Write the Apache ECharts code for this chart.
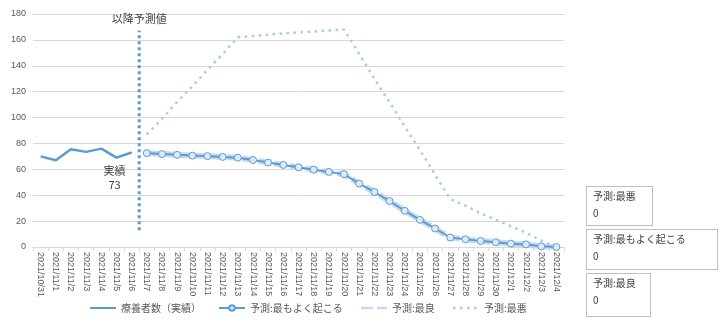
<!DOCTYPE html>
<html>
<head>
<meta charset="utf-8">
<script src="https://cdn.jsdelivr.net/npm/echarts@6/dist/echarts.min.js"></script>
<style>
html,body{margin:0;padding:0;background:#fff;}
#c{width:725px;height:324px;}
</style>
</head>
<body>
<div id="c"></div>
<script>
var categories = ['2021/10/31','2021/11/1','2021/11/2','2021/11/3','2021/11/4','2021/11/5','2021/11/6','2021/11/7','2021/11/8','2021/11/9','2021/11/10','2021/11/11','2021/11/12','2021/11/13','2021/11/14','2021/11/15','2021/11/16','2021/11/17','2021/11/18','2021/11/19','2021/11/20','2021/11/21','2021/11/22','2021/11/23','2021/11/24','2021/11/25','2021/11/26','2021/11/27','2021/11/28','2021/11/29','2021/11/30','2021/12/1','2021/12/2','2021/12/3','2021/12/4'];
var actual = [70, 67, 75.5, 73.5, 76, 69, 73];
var likely = [72.5, 71.8, 71.2, 70.6, 70.2, 69.6, 69, 67.2, 65.2, 63.4, 61.6, 59.7, 58, 56.3, 49, 42.5, 35.5, 28, 21, 14.3, 7.3, 6, 4.7, 3.7, 2.6, 2, 0.5, 0];
var best = [72.5, 71.8, 71.2, 70.6, 70.2, 69.6, 69, 67.2, 65.2, 63.4, 61.6, 59.7, 58, 56.3, 49, 42.5, 35.5, 28, 21, 14.3, 7.3, 6, 4.7, 3.7, 2.6, 2, 0.5, 0];
var worst = [87, 99, 112, 124, 137, 149, 162, 163, 164, 165, 165.8, 166.5, 167.2, 168, 149, 130, 112, 93, 75, 56, 37, 32, 26, 21, 16, 11, 5, 0];
var forecastStartIndex = 7;
var dividerPos = 6.5;
var dividerRange = [13, 167];
var yTicks = {min: 0, max: 180, interval: 20};

var names = {actual: '療養者数（実績）', likely: '予測:最もよく起こる', best: '予測:最良', worst: '予測:最悪'};
var FONT = '"Noto Sans CJK JP", "Noto Sans", sans-serif';

function pad(arr, start) {
  var out = [];
  for (var i = 0; i < categories.length; i++) {
    var j = i - start;
    out.push(j >= 0 && j < arr.length ? arr[j] : null);
  }
  return out;
}

var lastActual = actual.length - 1;
var actualData = pad(actual, 0).map(function (v, i) {
  if (i === lastActual) {
    return {
      value: v, symbol: 'circle', symbolSize: 1,
      label: {
        show: true, position: 'bottom', distance: 11, offset: [-17, 0],
        formatter: '実績\n{c}', fontSize: 11, lineHeight: 14, color: '#404040',
        fontFamily: FONT, align: 'center'
      }
    };
  }
  return v;
});

function box(label, value, x, y, w, h) {
  return {
    type: 'text', x: x, y: y, z: 100,
    style: {
      text: label + '\n' + value,
      fill: '#404040', font: '10px ' + FONT,
      lineHeight: 17,
      backgroundColor: '#fff', borderColor: '#bfbfbf', borderWidth: 1,
      padding: [1, 6, 3, 6], width: w - 12, height: h - 4
    }
  };
}

var chart = echarts.init(document.getElementById('c'), null, {renderer: 'canvas'});
chart.setOption({
  animation: false,
  textStyle: {fontFamily: FONT},
  grid: {left: 33, right: 161, top: 14, bottom: 77, containLabel: false},
  legend: {
    left: 84, top: 298, itemGap: 17, itemWidth: 26, itemHeight: 7,
    textStyle: {fontSize: 10, color: '#595959', fontFamily: FONT},
    data: [
      {name: names.actual, itemStyle: {opacity: 0}},
      {name: names.likely},
      {name: names.best, lineStyle: {width: 2.5}, itemStyle: {opacity: 0}},
      {name: names.worst, lineStyle: {width: 2.5}, itemStyle: {opacity: 0}}
    ]
  },
  xAxis: [{
    type: 'category', data: categories, boundaryGap: true,
    axisLine: {lineStyle: {color: '#d9d9d9'}},
    axisTick: {show: true, length: 4, lineStyle: {color: '#d9d9d9'}},
    axisLabel: {rotate: -90, interval: 0, fontSize: 9, color: '#595959', margin: 5, fontFamily: '"Liberation Sans", sans-serif'}
  }, {
    type: 'value', min: -0.5, max: categories.length - 0.5, show: false
  }],
  yAxis: {
    type: 'value', min: yTicks.min, max: yTicks.max, interval: yTicks.interval,
    axisLine: {show: false}, axisTick: {show: false},
    splitLine: {lineStyle: {color: '#d9d9d9', width: 1}},
    axisLabel: {fontSize: 9, color: '#595959', margin: 7, fontFamily: '"Liberation Sans", sans-serif'}
  },
  series: [{
    name: names.actual, type: 'line', data: actualData,
    symbol: 'none', showSymbol: true,
    lineStyle: {color: '#5b9bd5', width: 2.5}, itemStyle: {color: '#5b9bd5'}, z: 3
  }, {
    name: names.likely, type: 'line', data: pad(likely, forecastStartIndex),
    symbol: 'circle', symbolSize: 7, showSymbol: true,
    lineStyle: {color: '#5b9bd5', width: 2},
    itemStyle: {color: '#deebf7', borderColor: '#5b9bd5', borderWidth: 1}, z: 3
  }, {
    name: names.best, type: 'line', data: pad(best, forecastStartIndex),
    symbol: 'none',
    lineStyle: {color: '#c5dcf0', width: 6, type: [12, 4]},
    itemStyle: {color: '#c5dcf0'}, z: 2
  }, {
    name: names.worst, type: 'line', data: pad(worst, forecastStartIndex),
    symbol: 'none',
    lineStyle: {color: '#a9cbea', width: 2.5, type: [2.5, 4.5]},
    itemStyle: {color: '#a9cbea'}, z: 2
  }, {
    name: 'divider', type: 'line', xAxisIndex: 1,
    data: [[dividerPos, dividerRange[0]], {value: [dividerPos, dividerRange[1]], symbol: 'circle', symbolSize: 1, label: {show: true, position: 'top', distance: 6, formatter: '以降予測値', fontSize: 11, color: '#404040', fontFamily: FONT}}],
    symbol: 'none', showSymbol: true,
    lineStyle: {color: '#5b9bd5', width: 3, type: [3, 3]},
    itemStyle: {color: '#5b9bd5'}, z: 4
  }],
  graphic: [
    box(names.worst, worst[worst.length - 1], 587, 187, 65, 38),
    box(names.likely, likely[likely.length - 1], 587, 230, 130, 39),
    box(names.best, best[best.length - 1], 587, 274, 63, 42)
  ]
});
</script>
</body>
</html>
